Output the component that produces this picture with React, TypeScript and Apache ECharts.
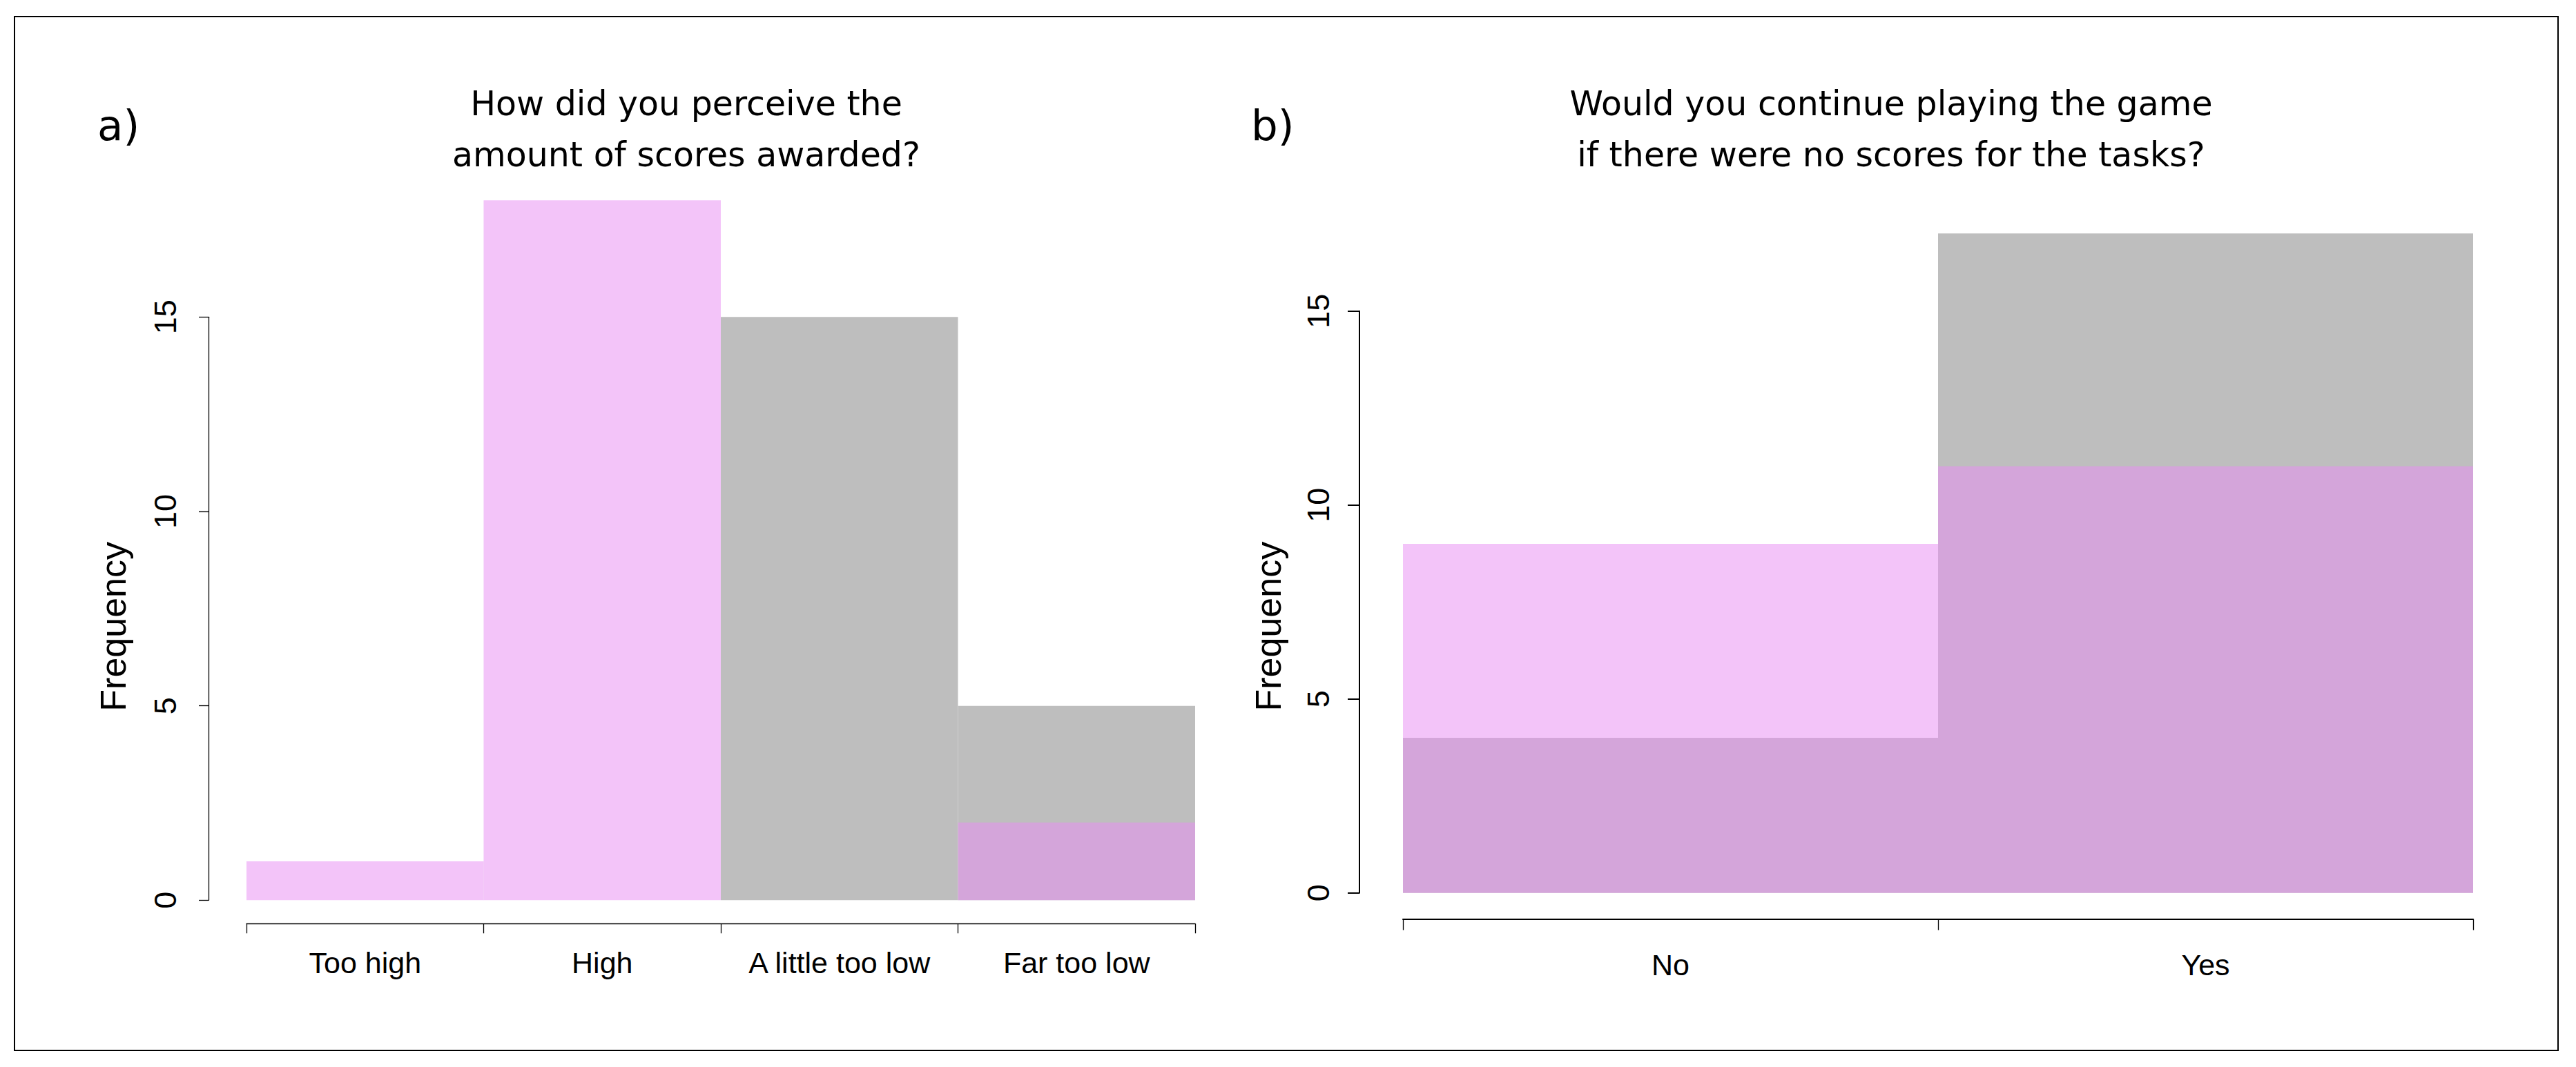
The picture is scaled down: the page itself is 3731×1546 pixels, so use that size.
import React, { useEffect, useRef } from "react";
import * as echarts from "echarts";

// ---- data ----
const catsA = ["Too high", "High", "A little too low", "Far too low"];
const grayA = [0, 0, 15, 5];
const pinkA = [1, 18, 0, 2];

const catsB = ["No", "Yes"];
const grayB = [4, 17];
const pinkB = [9, 11];

const yMin = 0;
const yMax = 15;
const yStep = 5;

const titleA = "How did you perceive the\namount of scores awarded?";
const titleB = "Would you continue playing the game\nif there were no scores for the tasks?";
const panelA = "a)";
const panelB = "b)";
const yName = "Frequency";

// ---- styles ----
const GRAY = "#BEBEBE";
const PINK = "rgba(232,142,243,0.52)";
const AXIS_FONT = "Liberation Sans, Arial, sans-serif";
const TITLE_FONT = "DejaVu Sans, Verdana, sans-serif";

function makeX(gridIndex: number, data: string[], offset: number, margin: number, lw: number, tickLen: number) {
  return {
    type: "category",
    gridIndex,
    data,
    position: "bottom",
    offset,
    boundaryGap: true,
    axisLine: { show: true, onZero: false, lineStyle: { color: "#000", width: lw } },
    axisTick: { show: true, alignWithLabel: false, interval: 0, length: tickLen, lineStyle: { color: "#000", width: 1.3 } },
    axisLabel: { interval: 0, margin, fontSize: 43, fontFamily: AXIS_FONT, color: "#000" },
    splitLine: { show: false },
  };
}

function makeY(gridIndex: number, offset: number, labelMargin: number, nameGap: number, namePad: number, lw: number, tickLen: number) {
  return {
    type: "value",
    gridIndex,
    min: yMin,
    max: yMax,
    interval: yStep,
    offset,
    position: "left",
    axisLine: { show: true, onZero: false, lineStyle: { color: "#000", width: lw } },
    axisTick: { show: true, length: tickLen, lineStyle: { color: "#000", width: lw } },
    axisLabel: { rotate: 90, margin: labelMargin, fontSize: 45, fontFamily: AXIS_FONT, color: "#000" },
    splitLine: { show: false },
    name: yName,
    nameLocation: "middle",
    nameRotate: 90,
    nameGap,
    nameTextStyle: { fontSize: 52, fontFamily: AXIS_FONT, color: "#000", padding: [0, namePad, 0, 0] },
  };
}

function bar(name: string, data: number[], color: string, idx: number) {
  return {
    type: "bar",
    name,
    data,
    xAxisIndex: idx,
    yAxisIndex: idx,
    barWidth: "100%",
    barGap: "-100%",
    barCategoryGap: "0%",
    clip: false,
    silent: true,
    itemStyle: { color },
  };
}

export default function App() {
  const ref = useRef<HTMLDivElement>(null);
  useEffect(() => {
    if (!ref.current) return;
    const chart = echarts.init(ref.current, undefined, { renderer: "svg" });
    const option = {
      animation: false,
      backgroundColor: "#fff",
      grid: [
        { left: 349, top: 451.3, width: 1374, height: 845, containLabel: false },
        { left: 2024, top: 442.7, width: 1550, height: 843, containLabel: false },
      ],
      xAxis: [makeX(0, catsA, 34, 35, 1.3, 14), makeX(1, catsB, 38, 45, 2, 16)],
      yAxis: [makeY(0, 55, 40, 112, 52, 1.3, 14), makeY(1, 63, 37, 106, 71, 2, 17)],
      series: [
        bar("grayA", grayA, GRAY, 0),
        bar("pinkA", pinkA, PINK, 0),
        bar("grayB", grayB, GRAY, 1),
        bar("pinkB", pinkB, PINK, 1),
      ],
      graphic: [
        {
          type: "rect",
          shape: { x: 13, y: 16, width: 3684, height: 1498 },
          style: { fill: "none", stroke: "#000", lineWidth: 2 },
          silent: true,
        },
        {
          type: "text",
          x: 986,
          y: 179,
          style: { text: titleA, font: `49px ${TITLE_FONT}`, fill: "#000", align: "center", verticalAlign: "middle", lineHeight: 74 },
        },
        {
          type: "text",
          x: 2731,
          y: 179,
          style: { text: titleB, font: `49px ${TITLE_FONT}`, fill: "#000", align: "center", verticalAlign: "middle", lineHeight: 74 },
        },
        {
          type: "text",
          x: 133,
          y: 173.5,
          style: { text: panelA, font: `61px ${TITLE_FONT}`, fill: "#000", align: "left", verticalAlign: "middle" },
        },
        {
          type: "text",
          x: 1804,
          y: 173.5,
          style: { text: panelB, font: `61px ${TITLE_FONT}`, fill: "#000", align: "left", verticalAlign: "middle" },
        },
      ],
    };
    chart.setOption(option as any);
    return () => chart.dispose();
  }, []);
  return <div ref={ref} style={{ width: "3715px", height: "1530px" }} />;
}
